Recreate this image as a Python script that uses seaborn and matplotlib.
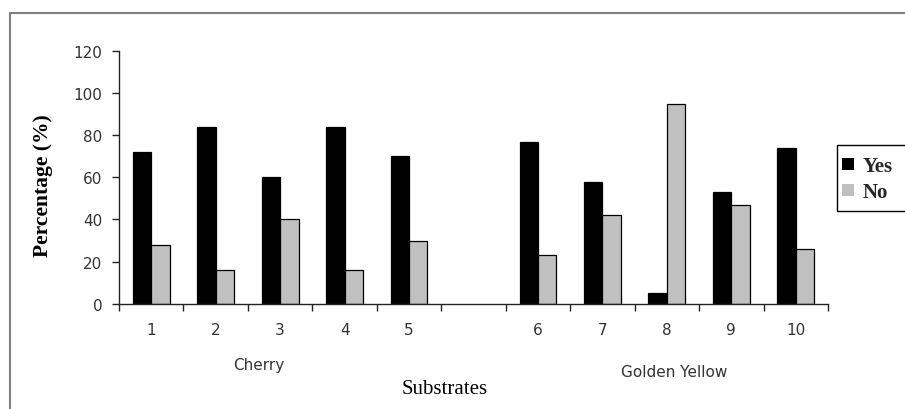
import numpy as np
import pandas as pd
import seaborn as sns
import matplotlib.pyplot as plt
from matplotlib.lines import Line2D
from matplotlib.patches import Rectangle

# ---- data ----
substrates = ['1', '2', '3', '4', '5', '6', '7', '8', '9', '10']
yes_values = [72, 84, 60, 84, 70, 77, 58, 5, 53, 74]
no_values = [28, 16, 40, 16, 30, 23, 42, 95, 47, 26]
slot_order = ['1', '2', '3', '4', '5', '', '6', '7', '8', '9', '10']
responses = ['Yes', 'No']
group_labels = ['Cherry', 'Golden Yellow']
y_ticks = [0, 20, 40, 60, 80, 100, 120]

df = pd.DataFrame({
    'Substrate': substrates * 2,
    'Response': ['Yes'] * len(yes_values) + ['No'] * len(no_values),
    'Percentage': yes_values + no_values,
})

sns.set_style('white')
plt.rcParams['font.family'] = ['DejaVu Sans']

W, H = 905, 410
fig = plt.figure(figsize=(W / 100, H / 100), dpi=100)
ax = fig.add_axes([119 / W, 1 - 304.7 / H, (828 - 119) / W, (304.7 - 52) / H])

sns.barplot(data=df, x='Substrate', y='Percentage', hue='Response',
            order=slot_order, hue_order=responses,
            palette={'Yes': 'black', 'No': '#c0c0c0'},
            width=0.57, edgecolor='black', linewidth=0.9,
            errorbar=None, legend=False, ax=ax)

ax.set_xlim(-0.5, len(slot_order) - 0.5)
ax.set_ylim(0, 120)
ax.set_yticks(y_ticks)
ax.set_yticklabels([str(t) for t in y_ticks])

for s in ['top', 'right']:
    ax.spines[s].set_visible(False)
for s in ['left', 'bottom']:
    ax.spines[s].set_color('#222222')
    ax.spines[s].set_linewidth(1.0)

ax.tick_params(axis='y', which='major', direction='out', length=5, width=1,
               color='#222222', labelsize=11, labelcolor='#333333', pad=7, left=True)
ax.set_xticks(np.arange(-0.5, len(slot_order), 1), minor=True)
ax.tick_params(axis='x', which='minor', direction='out', length=5, width=1,
               color='#222222', bottom=True)
ax.tick_params(axis='x', which='major', length=0, labelsize=11,
               labelcolor='#333333', pad=13)

ax.set_xlabel('')
ax.set_ylabel('Percentage (%)', family=['Liberation Serif'], fontweight='bold',
              fontsize=15.5, color='black')
ax.yaxis.set_label_coords(-0.093, 0.472)

# value labels on Yes bars
for cont in ax.containers:
    if cont.get_label() == 'Yes':
        ax.bar_label(cont, fmt='%.0f', padding=7, fontsize=8.5, color='#333333')

# group labels
fig.text(259 / W, 1 - 366 / H, group_labels[0], ha='center', va='center',
         fontsize=11, color='#333333')
fig.text(674 / W, 1 - 373 / H, group_labels[1], ha='center', va='center',
         fontsize=11, color='#333333')
fig.text(445 / W, 1 - 390 / H, 'Substrates', ha='center', va='center',
         family=['Liberation Serif'], fontsize=15, color='black')

# legend
handles = [c for c in ax.containers]
leg = ax.legend(handles, responses, loc='upper left',
                bbox_to_anchor=(838 / W, 1 - 153 / H), bbox_transform=fig.transFigure,
                frameon=False,
                prop={'family': 'Liberation Serif', 'weight': 'bold', 'size': 15},
                handlelength=0.55, handleheight=0.55, handletextpad=0.45,
                borderpad=0.2, labelspacing=0.3, borderaxespad=0)
for h in leg.legend_handles:
    h.set_edgecolor('none')
fig.add_artist(Rectangle((837 / W, 1 - 212 / H), 80 / W, 66 / H,
                         transform=fig.transFigure, fill=False,
                         edgecolor='black', lw=1.0, clip_on=False))

# outer frame lines
fig.add_artist(Line2D([10 / W, 1], [1 - 14 / H, 1 - 14 / H], transform=fig.transFigure,
                      color='#7f7f7f', lw=1.5))
fig.add_artist(Line2D([10 / W, 10 / W], [0, 1 - 14 / H], transform=fig.transFigure,
                      color='#7f7f7f', lw=1.5))

fig.savefig('out.png', dpi=100)
